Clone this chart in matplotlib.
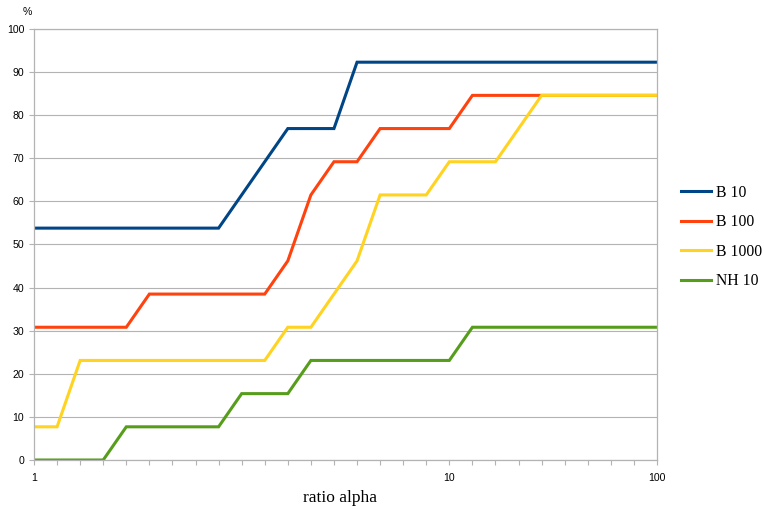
import numpy as np
from matplotlib import pyplot as plt

# category axis (evenly spaced), only decades get a label
ratios = [1, 1.5, 2, 2.5, 3, 3.5, 4, 4.5, 5, 5.5, 6, 6.5, 7, 7.5, 8, 8.5, 9, 9.5,
          10, 20, 30, 40, 50, 60, 70, 80, 90, 100]
shown = [1, 10, 100]

b10 = [53.8] * 9 + [61.5, 69.2] + [76.9] * 3 + [92.3] * 14
b100 = [30.8] * 5 + [38.5] * 6 + [46.2, 61.5, 69.2, 69.2] + [76.9] * 4 + [84.6] * 9
b1000 = [7.7] * 2 + [23.1] * 9 + [30.8] * 2 + [38.5, 46.2] + [61.5] * 3 + [69.2] * 3 + [76.9] + [84.6] * 6
nh10 = [0.0] * 4 + [7.7] * 5 + [15.4] * 3 + [23.1] * 7 + [30.8] * 9

series = [("B 10", b10, "#004586"), ("B 100", b100, "#ff420e"),
          ("B 1000", b1000, "#ffd320"), ("NH 10", nh10, "#579d1c")]

grid = "#b3b3b3"
serif = ["Liberation Serif", "DejaVu Serif"]
sans = ["Liberation Sans", "DejaVu Sans"]

fig = plt.figure(figsize=(7.64, 5.09), dpi=100)
ax = fig.add_axes([34 / 764, 49 / 509, 623 / 764, 431 / 509])

x = np.arange(len(ratios))
for name, vals, col in series:
    ax.plot(x, vals, color=col, lw=2.2, label=name, solid_joinstyle="miter")

ax.set_xlim(0, len(ratios) - 1)
ax.set_ylim(0, 100)
ax.set_yticks(np.arange(0, 101, 10))
ax.set_xticks(x)
ax.set_xticklabels([str(r) if r in shown else "" for r in ratios])
for lab in ax.get_xticklabels() + ax.get_yticklabels():
    lab.set_family(sans)
ax.yaxis.grid(True, color=grid, lw=0.8)
ax.set_axisbelow(True)
for s in ax.spines.values():
    s.set_color(grid)
    s.set_linewidth(0.9)
ax.tick_params(axis="both", colors=grid, labelcolor="#000000", labelsize=7.6, length=3.6, width=0.8)
ax.tick_params(axis="x", pad=5.5)
ax.tick_params(axis="y", pad=3.5)

fig.text(27 / 764, 1 - 12 / 509, "%", fontsize=7.6, family=sans, ha="center", va="center")
fig.text(340 / 764, 1 - 498 / 509, "ratio alpha", fontsize=12.5, family=serif,
         ha="center", va="center")

ax.legend(loc="center left", bbox_to_anchor=(681 / 764, 1 - 237 / 509),
          bbox_transform=fig.transFigure, frameon=False, borderpad=0, borderaxespad=0,
          handlelength=1.9, handletextpad=0.35, labelspacing=0.85,
          prop={"family": serif, "size": 11.3})

fig.savefig("out.png", dpi=100)
